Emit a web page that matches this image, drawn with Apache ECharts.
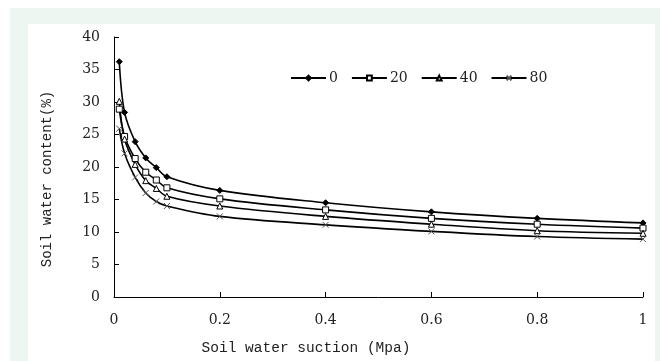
<!DOCTYPE html>
<html>
<head>
<meta charset="utf-8">
<script src="https://cdn.jsdelivr.net/npm/echarts@6/dist/echarts.min.js"></script>
<style>
  html, body { margin: 0; padding: 0; background: #fff; }
  #frame { position: absolute; left: 10px; top: 8px; width: 650px; height: 353px; background: #eef6f1; }
  #chart { position: absolute; left: 28px; top: 24px; width: 627px; height: 337px; background: #fff; }
</style>
</head>
<body>
<div id="frame"></div>
<div id="chart"></div>
<script>
// soil water suction (Mpa)
const suction = [0.01, 0.02, 0.04, 0.06, 0.08, 0.1, 0.2, 0.4, 0.6, 0.8, 1];

// soil water content (%) per treatment
const names = ['0', '20', '40', '80'];
const water0 = [36.2, 28.4, 23.9, 21.4, 19.9, 18.5, 16.4, 14.5, 13.1, 12.1, 11.4];
const water20 = [28.9, 24.7, 21.3, 19.2, 18.0, 16.8, 15.1, 13.4, 12.1, 11.2, 10.6];
const water40 = [30.1, 24.3, 20.4, 17.9, 16.7, 15.5, 14.0, 12.4, 11.2, 10.2, 9.8];
const water80 = [25.9, 22.1, 18.4, 16.0, 14.7, 14.0, 12.4, 11.1, 10.1, 9.3, 8.9];

const xTicks = [0, 0.2, 0.4, 0.6, 0.8, 1];
const yTicks = [0, 5, 10, 15, 20, 25, 30, 35, 40];

const serif = 'DejaVu Serif';
const mono = 'Liberation Mono';

const markers = [
  { symbol: 'diamond', size: 6, fill: '#000', stroke: '#000' },
  { symbol: 'rect', size: 6, fill: '#fff', stroke: '#000' },
  { symbol: 'triangle', size: 6, fill: '#fff', stroke: '#000' },
  { symbol: 'path://M0,0L10,10M10,0L0,10', size: 6, fill: '#fff', stroke: '#555' }
];

const makeSeries = (name, values, idx) => ({
  name: name,
  type: 'line',
  data: suction.map((x, i) => [x, values[i]]),
  smooth: 0.35,
  symbol: markers[idx].symbol,
  symbolSize: markers[idx].size,
  showSymbol: true,
  lineStyle: { color: '#000', width: 1.6 },
  itemStyle: {
    color: markers[idx].fill,
    borderColor: markers[idx].stroke,
    borderWidth: 1
  },
  emphasis: { disabled: true },
  animation: false
});

const chart = echarts.init(document.getElementById('chart'));
chart.setOption({
  backgroundColor: '#fff',
  grid: { left: 86, right: 12, top: 13, bottom: 62 },
  legend: {
    left: 262,
    top: 47,
    padding: 0,
    itemWidth: 35,
    itemHeight: 6,
    itemGap: 13,
    textStyle: { fontFamily: serif, fontSize: 14, color: '#222', padding: [0, 0, 0, -2] },
    data: names
  },
  xAxis: {
    type: 'value',
    min: 0,
    max: 1,
    interval: 0.2,
    name: 'Soil water suction (Mpa)',
    nameLocation: 'middle',
    nameGap: 44,
    nameTextStyle: { fontFamily: mono, fontSize: 14.5, color: '#222', padding: [0, 145, 0, 0] },
    axisLine: { lineStyle: { color: '#000', width: 1 } },
    axisTick: { inside: true, length: 5, lineStyle: { color: '#000' } },
    axisLabel: {
      fontFamily: serif, fontSize: 14, color: '#222', margin: 16,
      formatter: (v) => (xTicks.includes(+v.toFixed(1)) ? String(+v.toFixed(1)) : '')
    },
    splitLine: { show: false }
  },
  yAxis: {
    type: 'value',
    min: 0,
    max: 40,
    interval: 5,
    name: 'Soil water content(%)',
    nameLocation: 'middle',
    nameGap: 60,
    nameRotate: 90,
    nameTextStyle: { fontFamily: mono, fontSize: 14, color: '#222', padding: [0, 24, 0, 0] },
    axisLine: { show: true, lineStyle: { color: '#000', width: 1 } },
    axisTick: { show: true, inside: true, length: 5, lineStyle: { color: '#000' } },
    axisLabel: {
      fontFamily: serif, fontSize: 14, color: '#222', margin: 14,
      formatter: (v) => (yTicks.includes(v) ? String(v) : '')
    },
    splitLine: { show: false }
  },
  series: [
    makeSeries(names[0], water0, 0),
    makeSeries(names[1], water20, 1),
    makeSeries(names[2], water40, 2),
    makeSeries(names[3], water80, 3)
  ]
});
</script>
</body>
</html>
